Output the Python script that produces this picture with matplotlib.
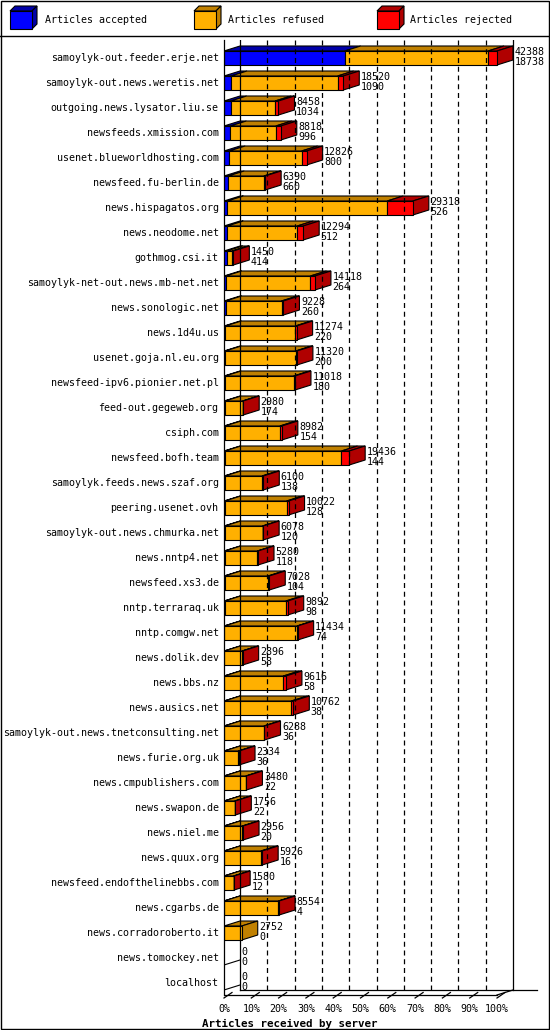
import matplotlib
matplotlib.use("Agg")
import matplotlib.pyplot as plt
from matplotlib.patches import Polygon, Rectangle

servers = ["samoylyk-out.feeder.erje.net","samoylyk-out.news.weretis.net","outgoing.news.lysator.liu.se",
"newsfeeds.xmission.com","usenet.blueworldhosting.com","newsfeed.fu-berlin.de","news.hispagatos.org",
"news.neodome.net","gothmog.csi.it","samoylyk-net-out.news.mb-net.net","news.sonologic.net","news.1d4u.us",
"usenet.goja.nl.eu.org","newsfeed-ipv6.pionier.net.pl","feed-out.gegeweb.org","csiph.com","newsfeed.bofh.team",
"samoylyk.feeds.news.szaf.org","peering.usenet.ovh","samoylyk-out.news.chmurka.net","news.nntp4.net",
"newsfeed.xs3.de","nntp.terraraq.uk","nntp.comgw.net","news.dolik.dev","news.bbs.nz","news.ausics.net",
"samoylyk-out.news.tnetconsulting.net","news.furie.org.uk","news.cmpublishers.com","news.swapon.de",
"news.niel.me","news.quux.org","newsfeed.endofthelinebbs.com","news.cgarbs.de","news.corradoroberto.it",
"news.tomockey.net","localhost"]
offered = [42388,18520,8458,8818,12826,6390,29318,12294,1450,14118,9228,11274,11320,11018,2980,8982,19436,
6100,10022,6078,5280,7028,9892,11434,2896,9616,10762,6288,2334,3480,1756,2956,5926,1580,8554,2752,0,0]
accepted = [18738,1090,1034,996,800,660,526,512,414,264,260,220,200,180,174,154,144,138,128,120,118,104,98,
74,58,58,38,36,36,22,22,20,16,12,4,0,0,0]
rejected = [1400,880,520,780,780,200,3980,930,200,700,300,200,200,200,100,300,1200,200,300,100,100,200,300,
100,100,400,300,100,100,100,100,100,200,100,100,0,0,0]
refused = [o - a - r for o, a, r in zip(offered, accepted, rejected)]
pct_ticks = [f"{p}%" for p in range(0, 101, 10)]

FONT = dict(family="DejaVu Sans Mono", fontsize=7.2)
W, H = 550, 1030
fig = plt.figure(figsize=(W/100, H/100), dpi=100)

# decoration axes in pixel coords
deco = fig.add_axes([0, 0, 1, 1]); deco.set_xlim(0, W); deco.set_ylim(H, 0); deco.axis("off")
deco.add_patch(Rectangle((0.5, 0.5), W-1.5, H-1.5, fill=False, lw=1, ec="black"))
deco.plot([0, W], [36, 36], color="black", lw=1)

def box3d(ax, x0, x1, yc, hh, dx, dy, front, top, side, draw_side):
    ax.add_patch(Polygon([(x0, yc-hh), (x1, yc-hh), (x1+dx, yc-hh-dy), (x0+dx, yc-hh-dy)],
                         closed=True, fc=top, ec="black", lw=0.8))
    if draw_side:
        ax.add_patch(Polygon([(x1, yc-hh), (x1, yc+hh), (x1+dx, yc+hh-dy), (x1+dx, yc-hh-dy)],
                             closed=True, fc=side, ec="black", lw=0.8))
    ax.add_patch(Rectangle((x0, yc-hh), x1-x0, 2*hh, fc=front, ec="black", lw=0.8))

cols = [("#0000ff", "#0000a8", "#0000a8"), ("#ffb000", "#c08000", "#c08000"), ("#ff0000", "#b00000", "#b00000")]
legend_txt = ["Articles accepted", "Articles refused", "Articles rejected"]
for (lx, tx), c, t in zip([(10, 45), (194, 228), (377, 410)], cols, legend_txt):
    box3d(deco, lx, lx+22, 20, 9, 5, 5, c[0], c[1], c[2], True)
    deco.text(tx, 20, t, va="center", ha="left", **FONT)

# main axes
maxv = max(offered)
px = maxv / 273.0
ax = fig.add_axes([224/W, 1-1000/H, 296/W, 960/H])
ax.set_xlim(0, 296*px)
ax.set_ylim(37.68, -0.72)
ax.axis("off")
dx, dy, hh = 16*px, 0.2, 0.28
n = len(servers)

# back wall grid
ytop, yfloor = -0.72, 37.48
for i in range(1, 10):
    xv = maxv*i/10 + dx
    ax.plot([xv, xv], [ytop, yfloor-dy], ls=(0, (4, 3)), color="black", lw=0.9)
ax.plot([dx, dx], [ytop, yfloor-dy], color="black", lw=0.9)
ax.plot([maxv+dx]*2, [ytop, yfloor-dy], color="black", lw=0.9)
ax.plot([0, 0], [ytop, yfloor], color="black", lw=0.9, clip_on=False)
ax.plot([0, maxv], [yfloor, yfloor], color="black", lw=0.9)
ax.plot([dx, maxv+dx+1.5*dx], [yfloor-dy, yfloor-dy], color="black", lw=0.9, clip_on=False)
ax.plot([maxv, maxv+dx], [yfloor, yfloor-dy], color="black", lw=0.9)
for i in range(11):
    xv = maxv*i/10
    ax.plot([xv, xv+dx*0.5], [yfloor+0.12, yfloor-dy*0.5], color="black", lw=0.9, clip_on=False)
    ax.text(xv, yfloor+0.35, pct_ticks[i], ha="center", va="top", **FONT)
ax.text(0.02*maxv - 0.1*maxv, yfloor+0.95, "Articles received by server", ha="left", va="top",
        family="DejaVu Sans Mono", fontsize=7.8, fontweight="bold")

for i in range(n):
    segs = [accepted[i], refused[i], rejected[i]]
    nz = [k for k in range(3) if segs[k] > 0]
    x = 0
    for k in range(3):
        if segs[k] <= 0:
            continue
        box3d(ax, x, x+segs[k], i, hh, dx, dy, *cols[k], k == nz[-1])
        x += segs[k]
    if offered[i] == 0:
        ax.plot([0, dx], [i+hh, i+hh-dy], color="black", lw=0.8)
    ax.text(-0.02*maxv, i, servers[i], ha="right", va="center", **FONT)
    tx = offered[i] + dx + 1.5*px
    ax.text(tx, i-0.05, f"{offered[i]}", ha="left", va="bottom", **FONT)
    ax.text(tx, i-0.05, f"{accepted[i]}", ha="left", va="top", **FONT)

fig.savefig("out.png", dpi=100)
